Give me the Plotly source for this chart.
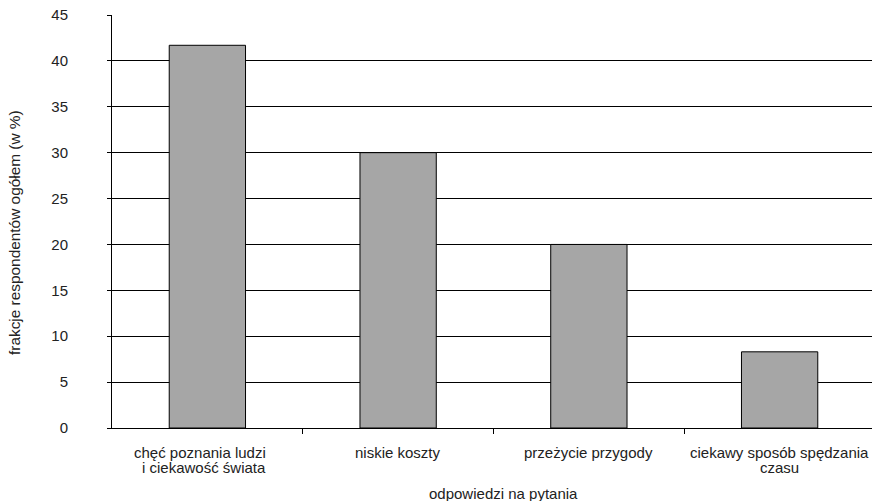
import plotly.graph_objects as go

categories = ["chęć poznania ludzi\ni ciekawość świata", "niskie koszty",
              "przeżycie przygody", "ciekawy sposób spędzania\nczasu"]
values = [41.7, 30.0, 20.0, 8.3]
y_ticks = [0, 5, 10, 15, 20, 25, 30, 35, 40, 45]

FONT = "Liberation Sans, Arial, sans-serif"
TXT = "#222222"
W, H = 872, 501
L, R, T, B = 112, 0, 15, 73
plot_w = W - L - R
plot_h = H - T - B

def px_y(y):
    return (H - B - y) / plot_h

# small horizontal nudges of label lines (first category label sits slightly left)
label_shift = {(0, 0): -7, (0, 1): -3}

fig = go.Figure()
fig.add_trace(go.Bar(
    x=list(range(len(categories))), y=values, width=0.4,
    marker=dict(color="#A6A6A6", line=dict(color="#000000", width=1)),
))

annotations = []
for i, cat in enumerate(categories):
    for j, line in enumerate(cat.split("\n")):
        annotations.append(dict(
            text=line, x=i, xref="x", y=px_y(452 + 15 * j), yref="paper",
            xshift=label_shift.get((i, j), 0), borderpad=0,
            showarrow=False, xanchor="center", yanchor="middle",
            font=dict(family=FONT, size=15, color=TXT)))

annotations.append(dict(
    text="odpowiedzi na pytania", x=(503 - L) / plot_w, xref="paper",
    y=px_y(493), yref="paper", showarrow=False, xanchor="center", yanchor="middle",
    font=dict(family=FONT, size=15, color=TXT)))
annotations.append(dict(
    text="frakcje respondentów ogółem (w %)", x=(15 - L) / plot_w, xref="paper",
    y=px_y(233), yref="paper", showarrow=False, textangle=-90,
    xanchor="center", yanchor="middle",
    font=dict(family=FONT, size=15.4, color=TXT)))

fig.update_layout(
    width=W, height=H,
    margin=dict(l=L, r=R, t=T, b=B),
    paper_bgcolor="white", plot_bgcolor="white",
    showlegend=False,
    font=dict(family=FONT, size=15, color=TXT),
    xaxis=dict(
        range=[-0.5, 3.5 - 3 / 190.7],
        tickvals=[0.5, 1.5, 2.5], showticklabels=False,
        showline=True, linecolor="#000000", linewidth=1,
        ticks="outside", ticklen=5, tickcolor="#000000",
        showgrid=False, zeroline=False,
    ),
    yaxis=dict(
        range=[0, 45], tickvals=y_ticks,
        showline=True, linecolor="#000000", linewidth=1,
        ticks="outside", ticklen=4, tickcolor="#000000",
        showgrid=True, gridcolor="#000000", gridwidth=1,
        zeroline=False,
        ticklabelstandoff=36,
        tickfont=dict(family=FONT, size=15, color=TXT),
    ),
    annotations=annotations,
)

fig.write_html("out.html", config={"displayModeBar": False},
               post_script="document.body.style.margin='0';document.body.style.padding='0';")
